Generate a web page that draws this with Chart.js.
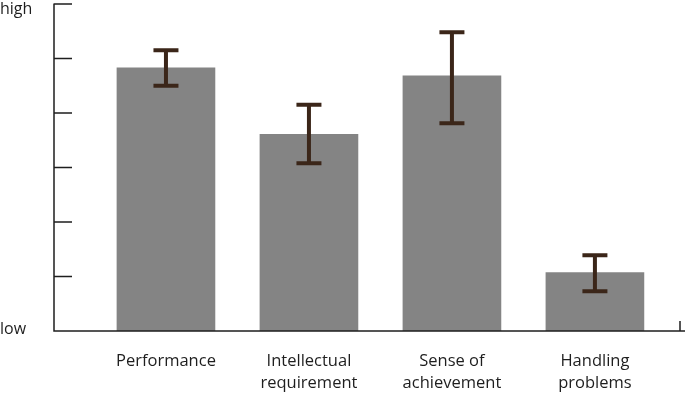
<!DOCTYPE html>
<html>
<head>
<meta charset="utf-8">
<script src="https://cdn.jsdelivr.net/npm/chart.js@4"></script>
<style>
  html, body { margin: 0; padding: 0; background: #fff; }
  #wrap { width: 685px; height: 393px; }
</style>
</head>
<body>
<div id="wrap"><canvas id="myChartBar"></canvas></div>
<script>
// data (scale 0 = low, 6 = high)
const categories = [['Performance'], ['Intellectual', 'requirement'], ['Sense of', 'achievement'], ['Handling', 'problems']];
const positions = [1, 2, 3, 4];
const means = [4.83, 3.61, 4.68, 1.07];
const errHigh = [5.15, 4.15, 5.48, 1.39];
const errLow = [4.5, 3.08, 3.81, 0.73];
const yTicks = [0, 1, 2, 3, 4, 5, 6];
const yLabels = { 0: 'low', 6: 'high' };

const FONT = '"Open Sans", sans-serif';

// axes, tick marks, y labels and error bars
const extras = {
    id: 'extras',
    afterDatasetsDraw(chart) {
        const ctx = chart.ctx;
        const x = chart.scales.x;
        const y = chart.scales.y;
        const left = chart.chartArea.left;
        const bottom = y.getPixelForValue(0);

        ctx.save();
        ctx.strokeStyle = '#1e1e1e';
        ctx.lineWidth = 1.5;
        ctx.beginPath();
        ctx.moveTo(left, y.getPixelForValue(6) - 0.5);
        ctx.lineTo(left, bottom);
        ctx.lineTo(chart.width, bottom);
        // y tick marks go inward
        for (let t of yTicks) {
            let py = y.getPixelForValue(t);
            ctx.moveTo(left, py);
            ctx.lineTo(left + 18, py);
        }
        // small tick at the end of the x axis
        let px = x.getPixelForValue(x.max) - 5;
        ctx.moveTo(px, bottom);
        ctx.lineTo(px, bottom - 10);
        ctx.stroke();

        // y labels
        ctx.fillStyle = '#1e1e1e';
        ctx.font = '16px ' + FONT;
        ctx.textAlign = 'left';
        ctx.textBaseline = 'alphabetic';
        ctx.fillText(yLabels[6], 0, y.getPixelForValue(6) + 10);
        ctx.fillText(yLabels[0], 0, y.getPixelForValue(0) + 3);

        // error bars
        ctx.strokeStyle = '#3b2619';
        ctx.lineWidth = 4;
        ctx.lineCap = 'butt';
        for (let i in positions) {
            let cx = x.getPixelForValue(positions[i]);
            let top = y.getPixelForValue(errHigh[i]);
            let bot = y.getPixelForValue(errLow[i]);
            ctx.beginPath();
            ctx.moveTo(cx, top);
            ctx.lineTo(cx, bot);
            ctx.moveTo(cx - 12.5, top);
            ctx.lineTo(cx + 12.5, top);
            ctx.moveTo(cx - 12.5, bot);
            ctx.lineTo(cx + 12.5, bot);
            ctx.stroke();
        }
        ctx.restore();
    }
};

let values = positions.map((p, i) => ({ x: p, y: means[i] }));

let myChartBar = new Chart(document.getElementById('myChartBar'), {
    type: 'bar',
    data: {
        datasets: [{
            data: values,
            backgroundColor: '#848484',
            borderWidth: 0,
            barThickness: 98
        }]
    },
    options: {
        responsive: true,
        maintainAspectRatio: false,
        animation: false,
        layout: { padding: { left: 54, top: 4, right: 0, bottom: 0 } },
        plugins: {
            legend: { display: false },
            tooltip: { enabled: false }
        },
        scales: {
            x: {
                type: 'linear',
                offset: false,
                min: 0.217,
                max: 4.63,
                grid: { display: false, drawTicks: false, offset: false },
                border: { display: false },
                afterBuildTicks(scale) {
                    scale.ticks = positions.map(v => ({ value: v }));
                },
                afterFit(scale) {
                    scale.height = 62;
                },
                ticks: {
                    padding: 20,
                    color: '#1e1e1e',
                    font: { family: FONT, size: 16.5, lineHeight: 1.3 },
                    maxRotation: 0,
                    autoSkip: false,
                    callback: function (v) {
                        return categories[positions.indexOf(v)];
                    }
                }
            },
            y: {
                display: false,
                min: 0,
                max: 6
            }
        }
    },
    plugins: [extras]
});
</script>
</body>
</html>
